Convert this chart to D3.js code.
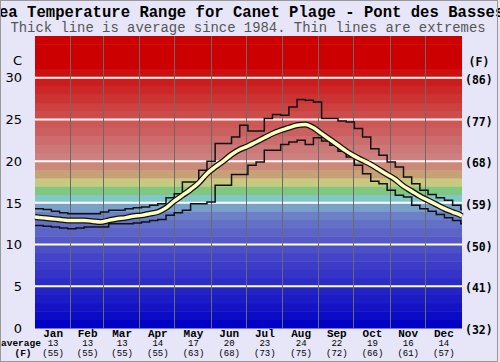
<!DOCTYPE html>
<html>
<head>
<meta charset="utf-8">
<script src="https://cdn.jsdelivr.net/npm/d3@7"></script>
<style>
  body { margin: 0; background: #e6e6f8; }
  svg { display: block; }
</style>
</head>
<body>
<svg id="chart" width="500" height="362"></svg>
<script>
// month labels and days per month
const months = ["Jan", "Feb", "Mar", "Apr", "May", "Jun", "Jul", "Aug", "Sep", "Oct", "Nov", "Dec"];
const monthDays = [31, 28, 31, 30, 31, 30, 31, 31, 30, 31, 30, 31];
const monthAvgC = [13, 13, 13, 14, 17, 20, 23, 24, 22, 19, 16, 14];
const monthAvgF = [55, 55, 55, 55, 63, 68, 73, 75, 72, 66, 61, 57];

// tick labels
const celsiusTicks = [0, 5, 10, 15, 20, 25, 30];
const fahrenheitTicks = [32, 41, 50, 59, 68, 77, 86];

// weekly readings (day of year 0, 7, 14 ... 364)
const maxTemp = [14.3, 14.2, 14.0, 13.8, 13.7, 13.7, 13.7, 13.7, 13.9, 14.1, 14.1, 14.3, 14.4, 14.5,
  14.7, 14.9, 15.6, 16.1, 17.5, 17.5, 18.9, 20.0, 22.1, 22.1, 22.9, 24.3, 23.6, 23.6, 25.1, 25.6,
  25.5, 26.5, 27.4, 27.3, 27.1, 25.1, 25.1, 24.8, 24.7, 23.9, 22.9, 21.5, 20.7, 19.9, 19.3, 18.1,
  17.3, 16.5, 16.0, 15.6, 15.3, 14.7, 14.2];
const avgTemp = [13.3, 13.2, 13.1, 13.0, 12.9, 12.9, 12.9, 12.8, 12.7, 12.9, 13.1, 13.2, 13.4, 13.5,
  13.7, 13.9, 14.4, 15.2, 15.9, 16.6, 17.4, 18.5, 19.3, 20.0, 20.8, 21.4, 21.8, 22.3, 22.8, 23.3,
  23.7, 24.0, 24.3, 24.4, 24.0, 23.3, 22.6, 21.9, 21.2, 20.6, 20.1, 19.6, 19.0, 18.4, 17.8, 17.0,
  16.4, 15.8, 15.3, 14.8, 14.3, 13.9, 13.5];
const minTemp = [12.3, 12.2, 12.1, 12.0, 11.9, 12.0, 12.1, 12.1, 12.1, 12.5, 12.5, 12.5, 12.6, 12.7,
  12.9, 13.0, 13.5, 13.8, 14.1, 14.9, 14.9, 15.1, 17.1, 17.1, 18.4, 18.4, 19.5, 19.9, 21.3, 21.3,
  22.0, 22.3, 22.5, 22.0, 22.8, 22.4, 21.9, 21.2, 20.5, 19.5, 18.5, 17.6, 17.3, 16.5, 15.9, 15.7,
  14.7, 14.3, 14.0, 13.6, 13.2, 12.9, 12.5];

// one colour per 1 degree band, from 0 C upwards
const bandColors = ["#0202c6", "#0c0cc6", "#1414c6", "#1c1cc6", "#2424c6", "#2c2cc8", "#3434c8",
  "#3c3cc8", "#4444c8", "#4c50c8", "#5458c8", "#5c64c8", "#6470c8", "#6c80c8", "#78a0c8", "#80c8c8",
  "#80c880", "#c8c880", "#c8a078", "#cc8878", "#cc8080", "#cc7878", "#cc6c6c", "#cc6060", "#cc5858",
  "#cc4c4c", "#cc4040", "#cc3434", "#cc2828", "#cc1c1c", "#cc1010", "#cc0000", "#cc0000", "#cc0000",
  "#cc0000"];

const width = 500;
const height = 362;
const margin = { top: 36, right: 38, bottom: 34, left: 35 };
const plotRight = width - margin.right;
const plotBottom = height - margin.bottom;

const mono = "'Liberation Mono', 'Courier New', monospace";

const svg = d3.select("#chart");

svg.append("rect")
  .attr("width", width)
  .attr("height", height)
  .attr("fill", "#e6e6f8");

const x = d3.scaleLinear().domain([0, 365]).range([margin.left, plotRight]);
const y = d3.scaleLinear().domain([0, 35]).range([plotBottom, margin.top]);

const weekDays = d3.range(0, 365, 7);

// background bands
svg.append("g")
  .attr("id", "bands")
  .selectAll("rect")
  .data(bandColors)
  .join("rect")
  .attr("x", margin.left)
  .attr("width", plotRight - margin.left)
  .attr("y", (d, i) => y(i + 1))
  .attr("height", (d, i) => y(i) - y(i + 1) + 0.5)
  .attr("fill", (d) => d);

// white grid lines
svg.append("g")
  .attr("id", "grid")
  .selectAll("line")
  .data(celsiusTicks.filter((d) => d > 0))
  .join("line")
  .attr("x1", margin.left)
  .attr("x2", plotRight)
  .attr("y1", (d) => y(d))
  .attr("y2", (d) => y(d))
  .attr("stroke", "#ffffff")
  .attr("stroke-width", 2);

// month boundaries
const monthStart = d3.cumsum([0].concat(monthDays));
svg.append("g")
  .attr("id", "months")
  .selectAll("line")
  .data(monthStart.slice(1, 12))
  .join("line")
  .attr("x1", (d) => Math.round(x(d)) - 0.5)
  .attr("x2", (d) => Math.round(x(d)) - 0.5)
  .attr("y1", margin.top)
  .attr("y2", plotBottom)
  .attr("stroke", "#6a6a6a")
  .attr("stroke-width", 1);

// lines
const toPoints = (values) => values.map((v, i) => [weekDays[i], v]);

const stepLine = d3.line()
  .x((d) => x(d[0]))
  .y((d) => y(d[1]))
  .curve(d3.curveStepAfter);

const smoothLine = d3.line()
  .x((d) => x(d[0]))
  .y((d) => y(d[1]))
  .curve(d3.curveMonotoneX);

const lines = svg.append("g").attr("id", "lines");

[maxTemp, minTemp].forEach((series) => {
  lines.append("path")
    .datum(toPoints(series).concat([[365, series[series.length - 1]]]))
    .attr("d", stepLine)
    .attr("fill", "none")
    .attr("stroke", "#111111")
    .attr("stroke-width", 1.5);
});

lines.append("path")
  .datum(toPoints(avgTemp).concat([[365, 13.4]]))
  .attr("d", smoothLine)
  .attr("fill", "none")
  .attr("stroke", "#111111")
  .attr("stroke-width", 6);

lines.append("path")
  .datum(toPoints(avgTemp).concat([[365, 13.4]]))
  .attr("d", smoothLine)
  .attr("fill", "none")
  .attr("stroke", "#ffffc0")
  .attr("stroke-width", 3.5);

// titles
svg.append("text")
  .attr("x", 247)
  .attr("y", 17)
  .attr("text-anchor", "middle")
  .attr("font-family", mono)
  .attr("font-weight", "bold")
  .attr("font-size", 15.6)
  .attr("fill", "#000")
  .text("Sea Temperature Range for Canet Plage - Pont des Basses");

svg.append("text")
  .attr("x", 248)
  .attr("y", 32)
  .attr("text-anchor", "middle")
  .attr("font-family", mono)
  .attr("font-size", 13.9)
  .attr("fill", "#555")
  .text("Thick line is average since 1984. Thin lines are extremes");

// left axis (C)
const leftAxis = svg.append("g").attr("id", "axis-c");
leftAxis.append("text")
  .attr("x", 22)
  .attr("y", 65)
  .attr("text-anchor", "end")
  .attr("font-family", "'DejaVu Sans', sans-serif")
  .attr("font-size", 13)
  .text("C");
leftAxis.selectAll("text.tick")
  .data(celsiusTicks)
  .join("text")
  .attr("class", "tick")
  .attr("x", 22)
  .attr("y", (d) => y(d))
  .attr("dy", "0.36em")
  .attr("text-anchor", "end")
  .attr("font-family", "'DejaVu Sans', sans-serif")
  .attr("font-size", 13)
  .attr("fill", "#000")
  .text((d) => d);

// right axis (F)
const rightAxis = svg.append("g").attr("id", "axis-f");
rightAxis.append("text")
  .attr("x", 479)
  .attr("y", 66)
  .attr("text-anchor", "middle")
  .attr("font-family", "'DejaVu Sans Mono', monospace")
  .attr("font-weight", "bold")
  .attr("font-size", 11.5)
  .text("(F)");
rightAxis.selectAll("text.tick")
  .data(fahrenheitTicks)
  .join("text")
  .attr("class", "tick")
  .attr("x", 465)
  .attr("y", (d) => y((d - 32) * 5 / 9) + 2)
  .attr("dy", "0.36em")
  .attr("font-family", "'DejaVu Sans Mono', monospace")
  .attr("font-weight", "bold")
  .attr("font-size", 11.5)
  .attr("fill", "#000")
  .text((d) => `(${d})`);

// bottom labels
const bottom = svg.append("g").attr("id", "axis-months");
const monthCenter = (i) => x(monthStart[i] + monthDays[i] / 2);

bottom.selectAll("text.month")
  .data(months)
  .join("text")
  .attr("class", "month")
  .attr("x", (d, i) => monthCenter(i))
  .attr("y", 337)
  .attr("text-anchor", "middle")
  .attr("font-family", mono)
  .attr("font-weight", "bold")
  .attr("font-size", 11)
  .text((d) => d);

bottom.selectAll("text.avgc")
  .data(monthAvgC)
  .join("text")
  .attr("class", "avgc")
  .attr("x", (d, i) => monthCenter(i))
  .attr("y", 346)
  .attr("text-anchor", "middle")
  .attr("font-family", mono)
  .attr("font-size", 9)
  .text((d) => d);

bottom.selectAll("text.avgf")
  .data(monthAvgF)
  .join("text")
  .attr("class", "avgf")
  .attr("x", (d, i) => monthCenter(i))
  .attr("y", 356)
  .attr("text-anchor", "middle")
  .attr("font-family", mono)
  .attr("font-size", 9)
  .text((d) => `(${d})`);

bottom.append("text")
  .attr("x", 1)
  .attr("y", 346)
  .attr("font-family", mono)
  .attr("font-weight", "bold")
  .attr("font-size", 9.5)
  .text("average");

bottom.append("text")
  .attr("x", 23)
  .attr("y", 356)
  .attr("text-anchor", "middle")
  .attr("font-family", mono)
  .attr("font-weight", "bold")
  .attr("font-size", 9.5)
  .text("(F)");

// frame
svg.append("rect")
  .attr("x", 0.5)
  .attr("y", 0.5)
  .attr("width", 497)
  .attr("height", 361)
  .attr("fill", "none")
  .attr("stroke", "#999");
</script>
</body>
</html>
